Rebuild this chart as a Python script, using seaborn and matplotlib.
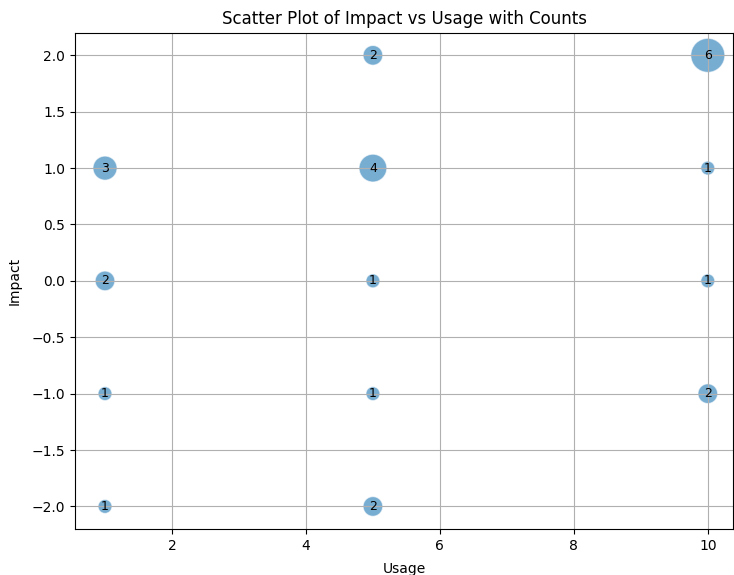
import matplotlib
matplotlib.use("Agg")
import matplotlib.pyplot as plt
import seaborn as sns
import pandas as pd

# ── data ──────────────────────────────────────────────────────────────────────
usage  = [1, 1, 1, 1, 5, 5, 5, 5, 5, 10, 10, 10, 10]
impact = [1, 0, -1, -2, 2, 1, 0, -1, -2, 2, 1, 0, -1]
counts = [3, 2, 1, 1, 2, 4, 1, 1, 2, 6, 1, 1, 2]

df = pd.DataFrame({"Usage": usage, "Impact": impact, "Count": counts})

# ── plot ──────────────────────────────────────────────────────────────────────
fig = plt.figure(figsize=(7.34, 5.75), dpi=100)
ax = fig.add_axes([0.102, 0.080, 0.897, 0.863])

sns.scatterplot(data=df, x="Usage", y="Impact", size="Count",
                sizes=(100, 600), size_norm=(1, 6), alpha=0.6,
                legend=False, ax=ax)

for u, i, c in zip(usage, impact, counts):
    ax.text(u, i, str(c), ha="center", va="center", fontsize=9)

ax.set_xlim(0.55, 10.38)
ax.set_title("Scatter Plot of Impact vs Usage with Counts")
ax.set_xlabel("Usage", labelpad=7)
ax.set_ylabel("Impact", labelpad=7)
ax.grid(True)

fig.savefig("out.png", dpi=100)
